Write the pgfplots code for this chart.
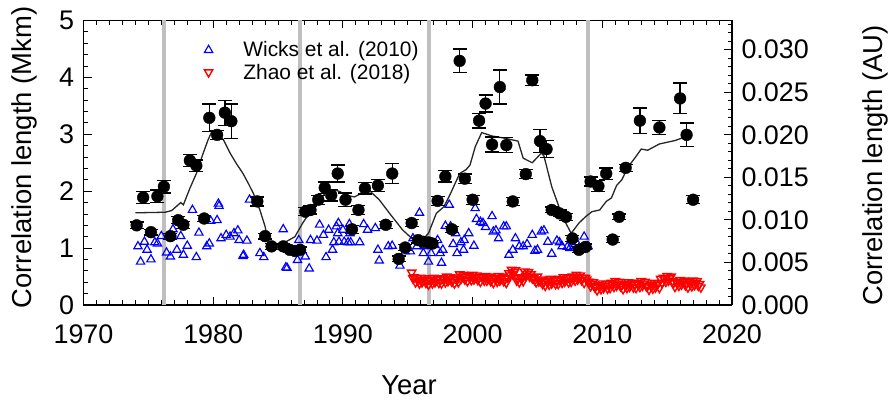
\documentclass[border=0pt]{standalone}
\usepackage{fontspec}
\setmainfont{Liberation Sans}
\usepackage{pgfplots}
\usepackage{pgfplotstable}
\pgfplotsset{compat=1.18}

\pgfplotstableread{
x y e
1974.1 1.40 0.06
1974.6 1.89 0.11
1975.2 1.28 0.05
1975.7 1.91 0.11
1976.2 2.08 0.11
1976.7 1.21 0.05
1977.3 1.49 0.06
1977.7 1.41 0.06
1978.2 2.54 0.10
1978.7 2.45 0.10
1979.3 1.52 0.05
1979.7 3.29 0.24
1980.3 2.99 0.08
1980.9 3.38 0.22
1981.4 3.23 0.30
1983.4 1.82 0.08
1984.0 1.21 0.05
1984.5 1.03 0.05
1985.4 1.03 0.05
1985.9 0.97 0.05
1986.3 0.95 0.05
1986.7 0.97 0.05
1987.1 1.64 0.07
1987.5 1.67 0.07
1988.1 1.85 0.08
1988.6 2.06 0.10
1989.1 1.93 0.10
1989.6 2.31 0.15
1990.2 1.85 0.12
1990.7 1.33 0.07
1991.2 1.67 0.08
1991.7 2.05 0.10
1992.7 2.10 0.10
1993.3 1.41 0.06
1993.8 2.31 0.18
1994.3 0.81 0.05
1994.8 1.01 0.05
1995.3 1.44 0.06
1995.8 1.14 0.05
1996.2 1.11 0.05
1996.6 1.10 0.05
1996.9 1.08 0.05
1997.3 1.83 0.08
1997.9 2.26 0.10
1998.4 1.33 0.05
1999.0 4.29 0.21
1999.4 2.22 0.08
2000.0 1.85 0.08
2000.5 3.24 0.13
2001.0 3.54 0.15
2001.5 2.82 0.13
2002.1 3.83 0.30
2002.6 2.81 0.13
2003.1 1.82 0.07
2004.1 2.30 0.08
2004.6 3.95 0.09
2005.2 2.88 0.20
2005.7 2.74 0.15
2006.1 1.67 0.05
2006.7 1.61 0.06
2007.2 1.55 0.06
2007.7 1.17 0.05
2008.2 0.97 0.05
2008.7 1.02 0.05
2009.1 2.17 0.08
2009.7 2.09 0.10
2010.3 2.31 0.10
2010.8 1.15 0.05
2011.3 1.55 0.05
2011.8 2.41 0.06
2012.9 3.24 0.22
2014.4 3.12 0.12
2016.0 3.63 0.27
2016.5 2.99 0.21
2017.0 1.85 0.07
}\obs

\pgfplotstableread{
x y
1974.0 1.62
1976.3 1.63
1976.8 1.66
1977.2 1.74
1977.5 1.80
1977.7 1.76
1978.2 2.05
1978.7 2.31
1979.2 2.65
1979.6 2.90
1979.9 3.05
1980.4 3.00
1980.8 2.90
1981.3 2.67
1981.8 2.48
1982.3 2.31
1982.7 2.14
1983.1 1.96
1983.6 1.67
1984.0 1.38
1984.2 1.14
1984.6 1.07
1985.1 1.07
1985.6 1.11
1986.3 1.20
1986.9 1.44
1987.4 1.61
1988.0 1.76
1988.6 1.96
1989.4 2.02
1989.8 1.99
1990.2 1.93
1990.9 1.90
1991.4 1.96
1992.0 2.02
1992.8 1.85
1993.6 1.61
1994.6 1.32
1995.6 1.11
1996.1 1.14
1996.6 1.26
1997.2 1.61
1997.8 1.73
1998.3 1.96
1999.0 2.31
1999.5 2.38
1999.8 2.46
2000.2 2.78
2000.7 3.03
2001.5 2.97
2002.5 2.93
2003.5 2.88
2003.9 2.58
2004.6 2.50
2005.3 2.67
2005.5 2.62
2006.1 2.08
2006.7 1.70
2007.0 1.52
2007.6 1.26
2008.2 1.44
2008.7 1.55
2009.2 1.64
2009.8 1.67
2010.3 1.82
2010.7 1.88
2011.1 2.10
2011.5 2.20
2012.0 2.43
2012.5 2.58
2013.0 2.74
2013.5 2.72
2014.4 2.83
2015.6 2.89
2016.6 2.97
}\smooth

\pgfplotstableread{
x y
1974.2 1.03
1974.4 0.76
1974.7 1.11
1974.9 0.97
1975.2 0.80
1975.5 1.10
1975.7 1.08
1976.0 1.21
1976.4 0.92
1976.7 0.85
1976.9 1.33
1977.2 0.97
1977.5 1.21
1977.7 0.88
1978.0 1.04
1978.4 1.67
1978.7 0.84
1978.9 1.27
1979.5 1.03
1979.7 1.08
1979.8 1.48
1980.3 1.49
1980.4 1.78
1980.45 1.74
1980.6 1.17
1981.0 1.23
1981.3 1.20
1981.6 1.26
1981.9 1.31
1982.0 1.14
1982.3 0.86
1982.35 0.88
1982.6 1.13
1982.8 1.85
1983.6 0.91
1983.9 0.84
1985.4 1.33
1985.6 0.66
1985.7 0.65
1986.5 0.79
1986.6 1.14
1987.1 0.85
1987.4 0.64
1987.5 1.14
1988.0 1.13
1988.2 1.41
1988.5 1.23
1988.7 0.84
1988.9 1.32
1989.2 0.97
1989.3 1.10
1989.5 1.38
1989.6 1.26
1989.65 1.44
1989.7 1.11
1990.0 1.32
1990.1 1.11
1990.4 1.10
1990.5 1.42
1990.55 1.26
1990.6 1.10
1991.3 1.10
1991.6 1.42
1991.9 1.32
1992.5 1.35
1992.7 0.97
1992.8 0.78
1993.5 1.03
1993.8 1.04
1994.4 0.69
1994.8 0.94
1995.2 0.94
1995.4 1.17
1995.7 1.03
1995.9 1.62
1996.2 0.91
1996.3 1.03
1996.6 0.76
1996.8 0.91
1997.1 1.05
1997.3 1.14
1997.5 0.91
1997.6 0.74
1997.7 0.97
1997.9 1.39
1998.2 1.76
1998.3 1.38
1998.5 1.07
1998.7 1.26
1998.8 0.91
1999.1 1.10
1999.3 0.97
1999.35 1.14
1999.7 1.26
2000.1 1.04
2000.2 1.70
2000.3 1.51
2000.6 1.46
2000.8 1.44
2001.0 1.37
2001.5 1.56
2001.6 1.29
2001.8 1.31
2002.0 1.17
2002.4 1.38
2002.6 1.38
2002.8 0.88
2003.1 0.97
2003.3 1.17
2003.6 1.03
2003.9 1.03
2004.2 1.07
2004.6 1.23
2004.8 0.95
2005.0 0.97
2005.3 1.29
2005.5 1.31
2005.8 1.11
2006.1 0.90
2006.5 1.13
2006.7 1.10
2006.9 1.03
2007.3 1.02
2007.5 1.00
2007.8 1.03
2008.0 1.10
2008.6 1.20
2008.9 1.03
}\wicks

\pgfplotstableread{
x y
1995.3 0.57
1995.4 0.47
1995.5 0.49
1995.6 0.40
1995.7 0.47
1995.8 0.43
1995.9 0.38
1996.0 0.48
1996.1 0.40
1996.2 0.44
1996.3 0.47
1996.4 0.39
1996.5 0.43
1996.6 0.36
1996.7 0.45
1996.8 0.42
1996.9 0.38
1997.0 0.48
1997.1 0.40
1997.2 0.44
1997.3 0.47
1997.4 0.39
1997.5 0.45
1997.6 0.38
1997.7 0.47
1997.8 0.44
1997.9 0.40
1998.0 0.50
1998.1 0.42
1998.2 0.46
1998.3 0.49
1998.4 0.41
1998.5 0.45
1998.6 0.38
1998.7 0.47
1998.8 0.44
1998.9 0.40
1999.0 0.54
1999.1 0.46
1999.2 0.50
1999.3 0.53
1999.4 0.45
1999.5 0.49
1999.6 0.42
1999.7 0.51
1999.8 0.48
1999.9 0.44
2000.0 0.53
2000.1 0.45
2000.2 0.49
2000.3 0.52
2000.4 0.44
2000.5 0.48
2000.6 0.41
2000.7 0.50
2000.8 0.47
2000.9 0.43
2001.0 0.51
2001.1 0.43
2001.2 0.47
2001.3 0.50
2001.4 0.42
2001.5 0.46
2001.6 0.39
2001.7 0.48
2001.8 0.45
2001.9 0.41
2002.0 0.51
2002.1 0.43
2002.2 0.47
2002.3 0.50
2002.4 0.42
2002.5 0.46
2002.6 0.39
2002.7 0.48
2002.8 0.56
2002.9 0.52
2003.0 0.62
2003.1 0.54
2003.2 0.58
2003.3 0.61
2003.4 0.43
2003.5 0.47
2003.6 0.40
2003.7 0.49
2003.8 0.46
2003.9 0.42
2004.0 0.59
2004.1 0.51
2004.2 0.55
2004.3 0.58
2004.4 0.50
2004.5 0.54
2004.6 0.47
2004.7 0.47
2004.8 0.44
2004.9 0.40
2005.0 0.50
2005.1 0.42
2005.2 0.42
2005.3 0.45
2005.4 0.37
2005.5 0.41
2005.6 0.34
2005.7 0.43
2005.8 0.40
2005.9 0.36
2006.0 0.46
2006.1 0.38
2006.2 0.42
2006.3 0.45
2006.4 0.37
2006.5 0.44
2006.6 0.37
2006.7 0.46
2006.8 0.43
2006.9 0.39
2007.0 0.49
2007.1 0.41
2007.2 0.45
2007.3 0.48
2007.4 0.40
2007.5 0.48
2007.6 0.41
2007.7 0.50
2007.8 0.47
2007.9 0.43
2008.0 0.53
2008.1 0.45
2008.2 0.49
2008.3 0.52
2008.4 0.44
2008.5 0.48
2008.6 0.39
2008.7 0.48
2008.8 0.45
2008.9 0.41
2009.0 0.41
2009.1 0.33
2009.2 0.37
2009.3 0.40
2009.4 0.32
2009.5 0.33
2009.6 0.26
2009.7 0.35
2009.8 0.32
2009.9 0.28
2010.0 0.38
2010.1 0.30
2010.2 0.34
2010.3 0.37
2010.4 0.29
2010.5 0.37
2010.6 0.30
2010.7 0.39
2010.8 0.36
2010.9 0.32
2011.0 0.42
2011.1 0.34
2011.2 0.38
2011.3 0.41
2011.4 0.33
2011.5 0.35
2011.6 0.28
2011.7 0.37
2011.8 0.34
2011.9 0.30
2012.0 0.40
2012.1 0.32
2012.2 0.36
2012.3 0.39
2012.4 0.31
2012.5 0.37
2012.6 0.30
2012.7 0.39
2012.8 0.36
2012.9 0.32
2013.0 0.42
2013.1 0.34
2013.2 0.38
2013.3 0.41
2013.4 0.33
2013.5 0.34
2013.6 0.27
2013.7 0.36
2013.8 0.33
2013.9 0.29
2014.0 0.39
2014.1 0.31
2014.2 0.35
2014.3 0.38
2014.4 0.30
2014.5 0.46
2014.6 0.39
2014.7 0.48
2014.8 0.45
2014.9 0.41
2015.0 0.51
2015.1 0.43
2015.2 0.47
2015.3 0.50
2015.4 0.42
2015.5 0.39
2015.6 0.32
2015.7 0.41
2015.8 0.38
2015.9 0.34
2016.0 0.44
2016.1 0.36
2016.2 0.40
2016.3 0.43
2016.4 0.35
2016.5 0.38
2016.6 0.31
2016.7 0.40
2016.8 0.37
2016.9 0.33
2017.0 0.43
2017.1 0.35
2017.2 0.39
2017.3 0.42
2017.4 0.34
2017.5 0.37
2017.6 0.31
}\zhao

\pgfplotsset{
  /pgf/number format/assume math mode=true,
  /pgf/number format/1000 sep={},
  mylegimg/.style={legend image code/.code={\draw[##1] plot coordinates {(0.45cm,0cm)}; \path (0cm,0cm) (1.6cm,0cm);}},
  every axis/.append style={
    scale only axis, width=648.5bp, height=284.5bp,
    xmin=1970, xmax=2020,
    major tick length=8bp, minor tick length=4.5bp,
    tick style={black, line width=0.9bp},
    axis line style={black, line width=1.3bp},
    tick label style={font=\fontsize{27}{30}\selectfont, black},
    label style={font=\fontsize{27.5}{30}\selectfont, black},
  }
}

\begin{document}
\begin{tikzpicture}
\begin{axis}[
  name=main,
  ymin=0, ymax=5,
  axis y line*=left,
  xtick={1970,1980,...,2020}, minor x tick num=9,
  xticklabels={1970,1980,1990,2000,2010,2020},
  ytick={0,1,...,5}, minor y tick num=4,
  xticklabel style={yshift=-16bp},
  yticklabel style={xshift=-6bp},
  xlabel={Year},
  xlabel style={at={(axis description cs:0.502,0)}, anchor=base, yshift=-90bp},
  ylabel={Correlation length (Mkm)},
  ylabel style={at={(axis description cs:-0.0799,0.5185)}, anchor=base},
  legend style={draw=none, fill=none, at={(axis description cs:0.168,0.94)}, anchor=north west,
    font=\fontsize{21}{25}\selectfont, row sep=1.5bp},
  legend cell align=left,
]
\addplot[color=black!25, line width=4bp, forget plot] coordinates {(1976.2,0) (1976.2,5)};
\addplot[color=black!25, line width=4bp, forget plot] coordinates {(1986.7,0) (1986.7,5)};
\addplot[color=black!25, line width=4bp, forget plot] coordinates {(1996.65,0) (1996.65,5)};
\addplot[color=black!25, line width=4bp, forget plot] coordinates {(2008.9,0) (2008.9,5)};

\addplot[only marks, mark=triangle, mark size=4.8bp, color=blue, mark options={line width=1.15bp}, mylegimg]
  table[x=x,y=y] {\wicks};
\addlegendentry{Wicks et al. (2010)}
\addplot[only marks, mark=triangle, mark size=4.8bp, color=red, mark options={line width=1.4bp, rotate=180}, mylegimg]
  table[x=x,y=y] {\zhao};
\addlegendentry{Zhao et al. (2018)}

\addplot[black!85, line width=1.3bp, forget plot] table[x=x,y=y] {\smooth};

\addplot[only marks, mark=*, mark size=5.9bp, color=black, forget plot,
  error bars/.cd, y dir=both, y explicit,
  error bar style={line width=1.3bp, black},
  error mark options={rotate=90, mark size=7bp, line width=1.3bp, black}]
  table[x=x,y=y,y error=e] {\obs};
\end{axis}

\begin{axis}[
  ymin=0, ymax=0.033423,
  axis y line*=right, axis x line=none,
  ytick={0,0.005,...,0.0301},
  minor ytick={0.001,0.002,0.003,0.004,0.006,0.007,0.008,0.009,0.011,0.012,0.013,0.014,0.016,0.017,0.018,0.019,0.021,0.022,0.023,0.024,0.026,0.027,0.028,0.029,0.031,0.032,0.033},
  scaled y ticks=false,
  yticklabel style={/pgf/number format/.cd, fixed, fixed zerofill, precision=3, /tikz/.cd, xshift=6bp},
  ylabel={Correlation length (AU)},
  ylabel style={at={(axis description cs:1.2328,0.49)}, anchor=base},
]
\end{axis}

\pgfresetboundingbox
\path[use as bounding box] ([shift={(-83.5bp,-96bp)}]main.south west) rectangle ([shift={(156bp,20.5bp)}]main.north east);
\end{tikzpicture}
\end{document}
